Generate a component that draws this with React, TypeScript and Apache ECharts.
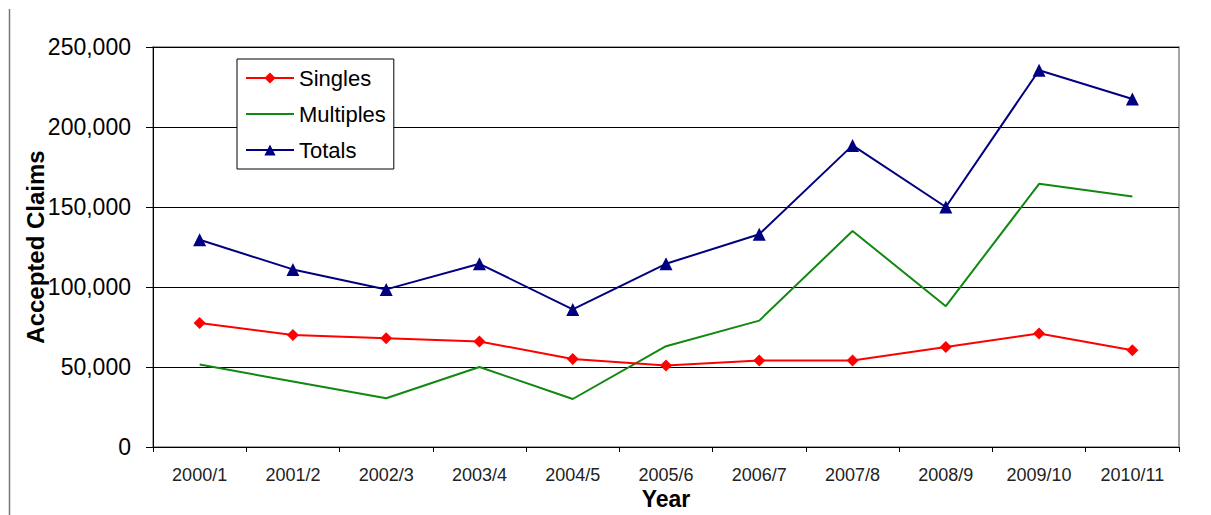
import React, { useEffect, useRef } from "react";
import * as echarts from "echarts";

const categories = ["2000/1", "2001/2", "2002/3", "2003/4", "2004/5", "2005/6", "2006/7", "2007/8", "2008/9", "2009/10", "2010/11"];
const singles = [77500, 70000, 68000, 66000, 55000, 51000, 54000, 54000, 62500, 71000, 60500];
const multiples = [51500, 41000, 30500, 50000, 30000, 63000, 79000, 135000, 88000, 164500, 156500];
const totals = [129500, 111000, 98500, 114500, 86000, 114500, 133000, 188500, 150000, 235500, 217500];
const yMin = 0;
const yMax = 250000;
const yStep = 50000;

const FONT = 'Arial, "Liberation Sans", sans-serif';

export default function App() {
  const ref = useRef<HTMLDivElement>(null);
  useEffect(() => {
    if (!ref.current) return;
    const chart = echarts.init(ref.current, undefined, { renderer: "svg" });
    chart.setOption({
      animation: false,
      backgroundColor: "#fff",
      textStyle: { fontFamily: FONT },
      graphic: [
        {
          type: "line",
          shape: { x1: 9.5, y1: 9, x2: 9.5, y2: 515 },
          style: { stroke: "#777", lineWidth: 1.5 },
          z: 0,
        },
      ],
      grid: {
        left: 153,
        right: 32,
        top: 47,
        bottom: 63,
        show: true,
        borderColor: "#888",
        borderWidth: 1.5,
        backgroundColor: "transparent",
      },
      legend: {
        orient: "vertical",
        left: 237,
        top: 59,
        padding: [8, 8, 8, 8],
        itemGap: 14,
        itemWidth: 48,
        itemHeight: 14,
        backgroundColor: "#fff",
        borderColor: "#000",
        borderWidth: 1,
        textStyle: { fontSize: 22, color: "#000", fontFamily: FONT },
        data: [
          { name: "Singles" },
          { name: "Multiples", itemStyle: { color: "transparent", borderWidth: 0, opacity: 0 } },
          { name: "Totals" },
        ],
      },
      xAxis: {
        type: "category",
        data: categories,
        boundaryGap: true,
        name: "Year",
        nameLocation: "middle",
        nameGap: 40,
        nameMoveOverlap: false,
        nameTextStyle: { fontSize: 23, fontWeight: "bold", color: "#000", fontFamily: FONT },
        axisLine: { lineStyle: { color: "#000", width: 1 } },
        axisTick: { show: true, length: 5, inside: false, alignWithLabel: false, lineStyle: { color: "#000" } },
        axisLabel: { fontSize: 18, color: "#222", margin: 19, interval: 0, fontFamily: FONT },
        splitLine: { show: false },
      },
      yAxis: {
        type: "value",
        min: yMin,
        max: yMax,
        interval: yStep,
        name: "Accepted Claims",
        nameLocation: "middle",
        nameGap: 106,
        nameMoveOverlap: false,
        nameTextStyle: { fontSize: 24, fontWeight: "bold", color: "#000", fontFamily: FONT },
        axisLine: { show: true, lineStyle: { color: "#000", width: 1 } },
        axisTick: { show: true, length: 7, inside: false, lineStyle: { color: "#000" } },
        axisLabel: {
          fontSize: 23,
          color: "#000",
          margin: 22,
          fontFamily: FONT,
          formatter: (v: number) => v.toLocaleString("en-US"),
        },
        splitLine: { show: true, lineStyle: { color: "#000", width: 1 } },
      },
      series: [
        {
          name: "Singles",
          type: "line",
          data: singles,
          symbol: "diamond",
          symbolSize: 12,
          itemStyle: { color: "#ff0000" },
          lineStyle: { color: "#ff0000", width: 2 },
          z: 3,
        },
        {
          name: "Multiples",
          type: "line",
          data: multiples,
          symbol: "none",
          showSymbol: false,
          itemStyle: { color: "#118811" },
          lineStyle: { color: "#118811", width: 2 },
          z: 2,
        },
        {
          name: "Totals",
          type: "line",
          data: totals,
          symbol: "triangle",
          symbolSize: 13,
          itemStyle: { color: "#000080" },
          lineStyle: { color: "#000080", width: 2 },
          z: 3,
        },
      ],
    });
    return () => chart.dispose();
  }, []);
  return <div ref={ref} style={{ position: "absolute", left: 0, top: 0, width: 1211, height: 515 }} />;
}
